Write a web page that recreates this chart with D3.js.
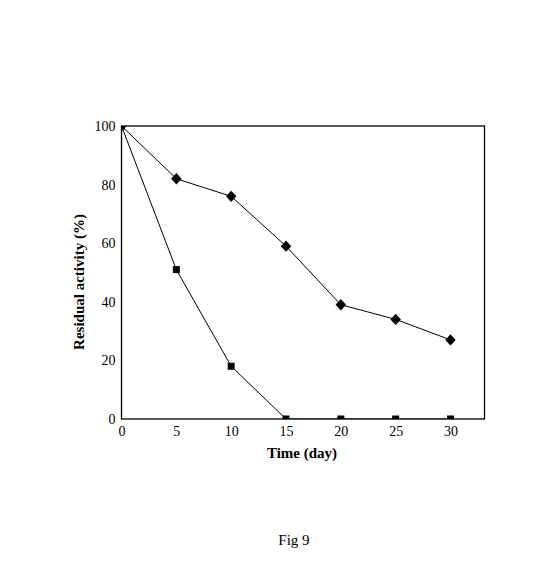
<!DOCTYPE html>
<html><head><meta charset="utf-8">
<script src="https://cdn.jsdelivr.net/npm/d3@7"></script>
<style>body{margin:0;background:#fff}svg{display:block}</style>
</head><body>
<svg id="c" width="552" height="584"></svg>
<script>
const days = [0, 5, 10, 15, 20, 25, 30];
const seriesDiamond = [100, 82, 76, 59, 39, 34, 27];
const seriesSquare = [100, 51, 18, 0, 0, 0, 0];
const xTicks = [0, 5, 10, 15, 20, 25, 30];
const yTicks = [0, 20, 40, 60, 80, 100];

const svg = d3.select("#c");
const L = 121.5, R = 484.5, T = 126, B = 419;
const x = d3.scaleLinear().domain([0, 33.1]).range([L, R]);
const y = d3.scaleLinear().domain([0, 100]).range([B, T]);
const font = "'Liberation Serif','Times New Roman',serif";

svg.append("defs").append("clipPath").attr("id","pc")
  .append("rect").attr("x",L).attr("y",T).attr("width",R-L).attr("height",B-T);

svg.append("rect").attr("x",L).attr("y",T).attr("width",R-L).attr("height",B-T)
  .attr("fill","none").attr("stroke","#000").attr("stroke-width",1.3);

const xa = svg.append("g").attr("transform",`translate(0,${B})`)
  .call(d3.axisBottom(x).tickValues(xTicks).tickSize(0).tickPadding(7));
const ya = svg.append("g").attr("transform",`translate(${L},0)`)
  .call(d3.axisLeft(y).tickValues(yTicks).tickSize(0).tickPadding(6));
[xa, ya].forEach(g => {
  g.select(".domain").remove();
  g.selectAll("text").attr("font-family",font).attr("font-size",14).attr("fill","#000");
});

const line = d3.line().x((d,i)=>x(days[i])).y(d=>y(d));
const g = svg.append("g").attr("clip-path","url(#pc)");
[seriesDiamond, seriesSquare].forEach(s => {
  g.append("path").datum(s).attr("d",line).attr("fill","none").attr("stroke","#000").attr("stroke-width",1);
});
g.selectAll(".dm").data(seriesDiamond).enter().append("path")
  .attr("d", d3.symbol(d3.symbolDiamond2 || d3.symbolSquare, 70)())
  .attr("transform",(d,i)=>`translate(${x(days[i])},${y(d)}) scale(1,1.08)`)
  .attr("fill","#000");
g.selectAll(".sq").data(seriesSquare).enter().append("rect")
  .attr("x",(d,i)=>x(days[i])-3.5).attr("y",d=>y(d)-3.5)
  .attr("width",7).attr("height",7).attr("fill","#000");

svg.append("text").attr("x",302).attr("y",458).attr("text-anchor","middle")
  .attr("font-family",font).attr("font-size",15).attr("font-weight","bold").text("Time (day)");
svg.append("text").attr("transform",`translate(84,282) rotate(-90)`).attr("text-anchor","middle")
  .attr("font-family",font).attr("font-size",15).attr("font-weight","bold").text("Residual activity (%)");
svg.append("text").attr("x",294).attr("y",545).attr("text-anchor","middle")
  .attr("font-family",font).attr("font-size",15).text("Fig 9");
</script>
</body></html>
